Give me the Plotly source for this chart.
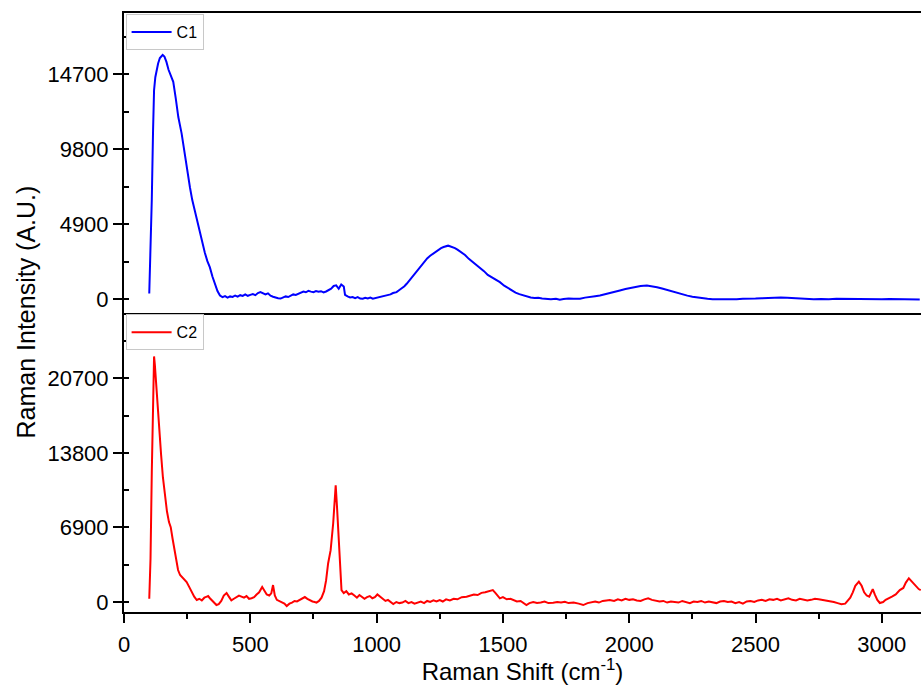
import plotly.graph_objects as go

# ---------------- data ----------------
c1_shift = [100, 105, 110, 115, 119, 124, 129, 135, 142, 148, 153, 160, 168, 176, 185, 195, 205, 215, 228, 240,
            250, 261, 270, 280, 290, 301, 310, 320, 330, 340, 350, 360, 370, 380, 390, 400, 410, 420, 430, 440,
            450, 460, 470, 480, 490, 500, 510, 520, 530, 540, 550, 560, 570, 580, 590, 600, 610, 620, 630, 640,
            650, 660, 670, 680, 690, 700, 710, 720, 730, 740, 750, 760, 770, 780, 790, 800, 810, 820, 830, 840,
            850, 860, 870, 875, 885, 895, 905, 915, 925, 935, 945, 955, 965, 975, 985, 995, 1005, 1015, 1025, 1035,
            1045, 1055, 1065, 1079, 1090, 1100, 1110, 1119, 1130, 1140, 1150, 1160, 1171, 1180, 1190, 1200, 1212, 1224, 1235, 1245,
            1255, 1265, 1275, 1283, 1290, 1300, 1310, 1320, 1336, 1350, 1365, 1380, 1395, 1409, 1425, 1440, 1455, 1470, 1488, 1505,
            1520, 1535, 1550, 1565, 1580, 1593, 1610, 1625, 1640, 1655, 1670, 1690, 1710, 1725, 1740, 1760, 1780, 1805, 1825, 1845,
            1865, 1884, 1905, 1925, 1945, 1963, 1985, 2005, 2025, 2045, 2070, 2090, 2110, 2130, 2150, 2170, 2190, 2210, 2230, 2250,
            2267, 2290, 2310, 2330, 2350, 2375, 2400, 2425, 2450, 2475, 2500, 2525, 2550, 2575, 2600, 2625, 2650, 2675, 2700, 2730,
            2760, 2790, 2820, 2850, 2880, 2910, 2940, 2970, 3000, 3030, 3060, 3090, 3120, 3150]
c1_intensity = [390, 3200, 6500, 11000, 13650, 14500, 14960, 15400, 15750, 15900, 15950, 15850, 15500, 15000, 14550, 14200, 13100, 11900, 10840, 9500,
                8400, 7320, 6500, 5800, 5000, 4310, 3600, 3050, 2500, 2090, 1500, 950, 550, 260, 150, 220, 120, 200, 170, 260,
                190, 280, 230, 330, 240, 300, 350, 280, 420, 480, 390, 330, 400, 250, 180, 120, 80, 60, 140, 200,
                160, 260, 330, 300, 380, 450, 520, 470, 560, 510, 480, 550, 500, 540, 460, 520, 600, 700, 880, 920,
                700, 980, 850, 300, 200, 130, 160, 90, 150, 60, 45, 110, 70, 130, 50, 90, 110, 140, 200, 220,
                290, 330, 420, 480, 620, 730, 860, 1025, 1250, 1450, 1650, 1880, 2110, 2330, 2520, 2680, 2850, 2985, 3150, 3280,
                3350, 3420, 3480, 3510, 3470, 3420, 3350, 3250, 3090, 2900, 2650, 2450, 2250, 2110, 1850, 1600, 1450, 1300, 1130, 900,
                750, 580, 450, 350, 260, 200, 130, 90, 110, 60, 40, 20, 50, -20, 30, 60, 40, 45, 120, 150,
                210, 260, 360, 430, 520, 590, 680, 760, 830, 880, 915, 870, 800, 720, 620, 520, 420, 330, 250, 180,
                130, 80, 40, 20, 10, 30, 5, 20, 40, 30, 60, 80, 100, 120, 130, 110, 80, 60, 40, 20,
                30, 10, 40, 30, 60, 50, 30, 20, 10, 30, 20, 0, 10, 0]

c2_shift = [100, 105, 110, 115, 119, 122, 126, 133, 140, 147, 154, 162, 170, 178, 185, 192, 200, 207, 214, 222,
            230, 240, 248, 258, 268, 278, 288, 298, 308, 318, 328, 333, 340, 350, 360, 366, 375, 385, 395, 406,
            415, 425, 435, 445, 455, 465, 475, 485, 495, 505, 515, 525, 535, 547, 555, 565, 575, 583, 590, 597,
            605, 615, 625, 635, 644, 655, 665, 675, 685, 695, 705, 716, 726, 736, 746, 755, 762, 772, 782, 792,
            800, 808, 818, 828, 833, 838, 843, 848, 853, 857, 861, 870, 880, 890, 901, 912, 922, 932, 942, 952,
            962, 973, 983, 993, 1003, 1013, 1023, 1035, 1045, 1056, 1066, 1078, 1090, 1102, 1114, 1126, 1138, 1150, 1162, 1175,
            1188, 1200, 1212, 1225, 1237, 1250, 1262, 1275, 1290, 1305, 1320, 1337, 1356, 1370, 1385, 1400, 1415, 1430, 1448, 1460,
            1470, 1480, 1488, 1500, 1515, 1530, 1541, 1555, 1570, 1583, 1593, 1605, 1620, 1635, 1650, 1665, 1680, 1699, 1715, 1730,
            1745, 1760, 1780, 1800, 1818, 1835, 1850, 1865, 1880, 1895, 1910, 1923, 1940, 1955, 1970, 1985, 2000, 2015, 2030, 2045,
            2060, 2075, 2090, 2105, 2120, 2135, 2150, 2165, 2180, 2195, 2210, 2225, 2240, 2255, 2270, 2285, 2300, 2315, 2330, 2345,
            2360, 2375, 2390, 2405, 2420, 2435, 2450, 2465, 2480, 2495, 2510, 2525, 2540, 2555, 2570, 2585, 2600, 2615, 2630, 2645,
            2660, 2675, 2690, 2705, 2720, 2735, 2750, 2765, 2780, 2795, 2810, 2825, 2840, 2855, 2865, 2875, 2885, 2895, 2909, 2920,
            2930, 2940, 2950, 2957, 2964, 2972, 2982, 2992, 3005, 3015, 3025, 3040, 3055, 3071, 3085, 3095, 3107, 3118, 3128, 3138,
            3146, 3154]
c2_intensity = [300, 4000, 12000, 19000, 22730, 22000, 20500, 18300, 16000, 13600, 11550, 9800, 8400, 7400, 6930, 5900, 4800, 3800, 2960, 2500,
                2300, 2050, 1850, 1400, 900, 500, 185, 300, 150, 400, 500, 550, 350, 100, -150, -277, -200, 100, 600, 830,
                500, 150, 300, 450, 600, 500, 400, 550, 300, 350, 450, 700, 900, 1390, 1100, 700, 600, 800, 1570, 600,
                200, 100, 0, -150, -370, -150, -50, 100, 50, 200, 300, 460, 300, 150, 50, 0, -60, 100, 400, 1000,
                2000, 3570, 4800, 7270, 9000, 10810, 8900, 6650, 4500, 2800, 1110, 830, 1000, 700, 800, 600, 400, 650, 500, 300,
                450, 550, 350, 450, 700, 490, 300, 100, 200, 0, -185, 0, -100, -50, 100, -100, 0, -150, -50, 50,
                -100, 100, 0, 150, 50, 185, 50, 250, 150, 300, 250, 450, 490, 600, 700, 650, 850, 900, 1045, 1100,
                850, 600, 340, 450, 250, 300, 185, 50, 100, -150, -280, -100, 0, -80, -50, 50, -100, -60, 0, -50,
                30, -100, -50, -150, -280, -100, 0, 50, -50, 100, 150, 185, 100, 250, 150, 300, 200, 250, 150, 100,
                250, 350, 200, 150, 50, 100, -50, 50, 0, -50, 100, 0, -100, 50, 0, 100, -50, 50, 0, -100,
                50, 100, 0, 50, -100, 0, -150, 50, 100, 0, 150, 200, 100, 250, 200, 300, 150, 250, 350, 200,
                150, 300, 250, 150, 200, 300, 250, 200, 100, 50, 0, -100, -200, -150, 100, 400, 900, 1500, 1880, 1500,
                900, 600, 500, 900, 1200, 700, 200, -90, 0, 200, 350, 500, 700, 1100, 1300, 1800, 2200, 1900, 1700, 1400,
                1200, 1100]

x_ticks = [0, 500, 1000, 1500, 2000, 2500, 3000]
c1_ticks = [0, 4900, 9800, 14700]
c2_ticks = [0, 6900, 13800, 20700]

series_names = ["C1", "C2"]

# ---------------- figure ----------------
FONT = "Liberation Sans, Arial, sans-serif"
fig = go.Figure()
fig.add_trace(go.Scatter(x=c1_shift, y=c1_intensity, mode="lines", name=series_names[0],
                         line=dict(color="#0000ff", width=2), xaxis="x", yaxis="y", legend="legend"))
fig.add_trace(go.Scatter(x=c2_shift, y=c2_intensity, mode="lines", name=series_names[1],
                         line=dict(color="#ff0000", width=2), xaxis="x2", yaxis="y2", legend="legend2"))

axis_common = dict(showline=True, linecolor="black", linewidth=2, showgrid=False, zeroline=False)
tickfont = dict(family=FONT, size=22, color="black")
legend_common = dict(xanchor="left", yanchor="top", bgcolor="white",
                     bordercolor="#c8c8c8", borderwidth=1,
                     font=dict(family=FONT, size=16, color="black"),
                     itemwidth=40, tracegroupgap=0)

fig.update_layout(
    width=921, height=685,
    margin=dict(l=124, r=0, t=13, b=73),
    plot_bgcolor="white", paper_bgcolor="white",
    showlegend=True,
    xaxis=dict(domain=[0, 1], anchor="y", range=[0, 3155], matches="x2", mirror=True,
               ticks="", showticklabels=False, **axis_common),
    xaxis2=dict(domain=[0, 1], anchor="y2", range=[0, 3155], mirror=False,
                tickvals=x_ticks, ticktext=[str(v) for v in x_ticks],
                ticks="outside", ticklen=9, tickwidth=2, tickcolor="black", tickfont=tickfont,
                ticklabelstandoff=3,
                minor=dict(ticks="outside", ticklen=5, tickwidth=2, dtick=250, tick0=0, tickcolor="black"),
                title=dict(text="Raman Shift (cm<sup>-1</sup>)", font=dict(family=FONT, size=24, color="black"),
                           standoff=2),
                **axis_common),
    yaxis=dict(domain=[0.5, 1], anchor="x", range=[-850, 18690],
               tickvals=c1_ticks, ticktext=[str(v) for v in c1_ticks],
               ticks="outside", ticklen=9, tickwidth=2, tickcolor="black", tickfont=tickfont,
               minor=dict(ticks="inside", ticklen=5, tickwidth=2, dtick=2450, tick0=0, tickcolor="black"),
               **axis_common),
    yaxis2=dict(domain=[0, 0.5], anchor="x2", range=[-924, 26800],
                tickvals=c2_ticks, ticktext=[str(v) for v in c2_ticks],
                ticks="outside", ticklen=9, tickwidth=2, tickcolor="black", tickfont=tickfont,
                minor=dict(ticks="inside", ticklen=5, tickwidth=2, dtick=3450, tick0=0, tickcolor="black"),
                **axis_common),
    legend=dict(x=0.002, y=0.998, **legend_common),
    legend2=dict(x=0.002, y=0.497, **legend_common),
    annotations=[dict(text="Raman Intensity (A.U.)", textangle=-90, xref="paper", yref="paper",
                      x=-(124 - 25) / 797, y=0.5, xanchor="center", yanchor="middle", showarrow=False,
                      font=dict(family=FONT, size=25, color="black"))],
)

fig.write_html("out.html")
